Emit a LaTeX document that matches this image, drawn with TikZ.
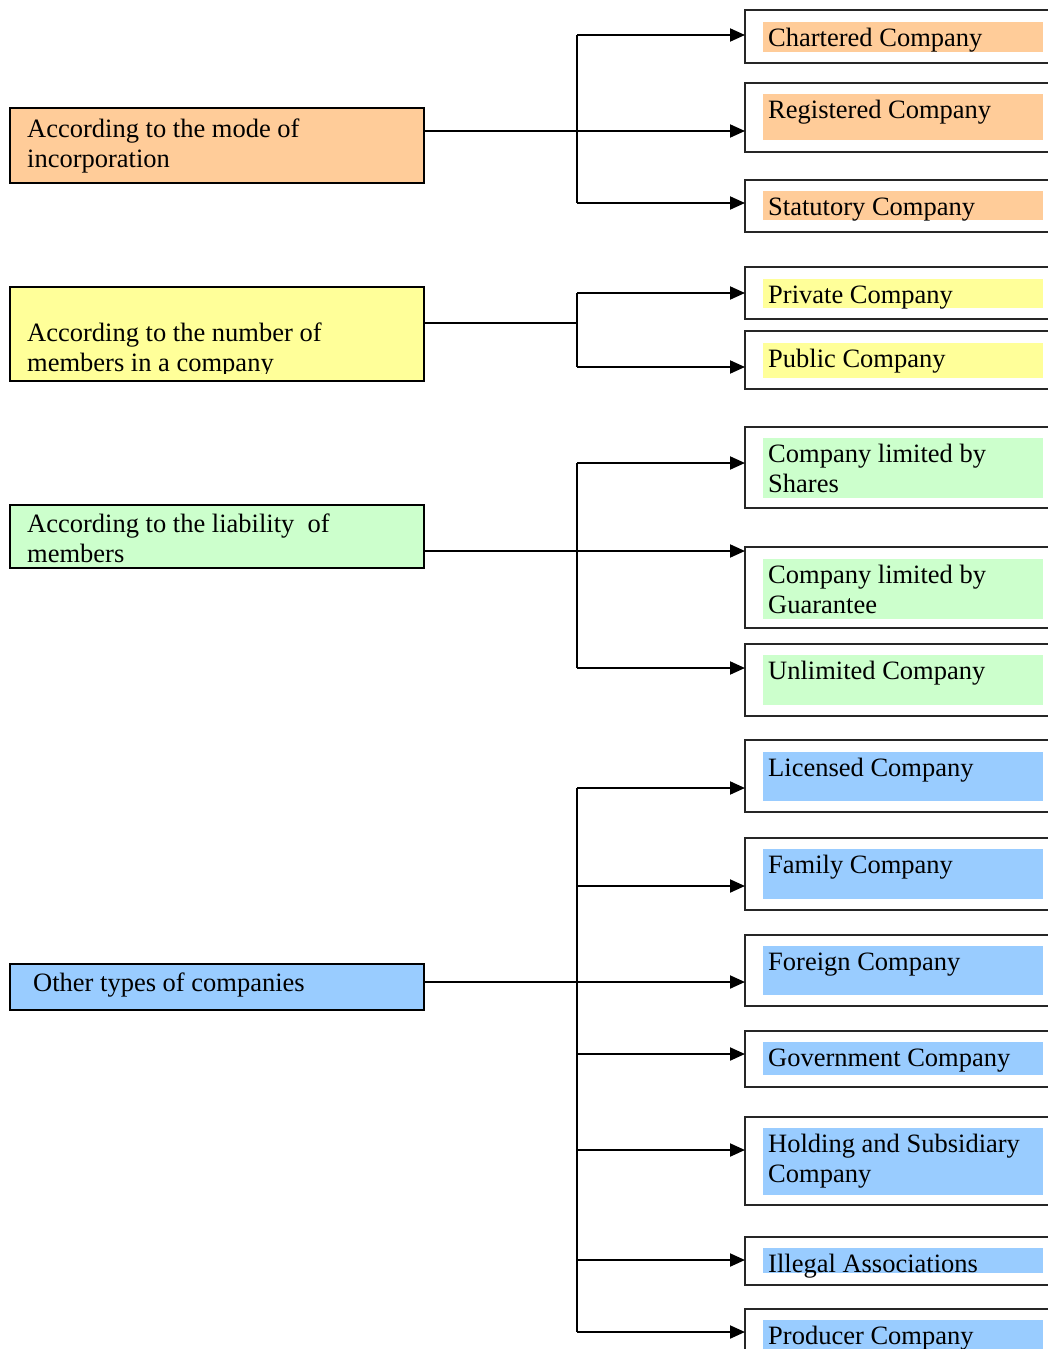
\documentclass[tikz,border=0pt]{standalone}
\usepackage{fontspec}
\setmainfont{Liberation Serif}
\usetikzlibrary{arrows.meta}
\definecolor{corange}{HTML}{FFCC99}
\definecolor{cyellow}{HTML}{FFFF99}
\definecolor{cgreen}{HTML}{CCFFCC}
\definecolor{cblue}{HTML}{99CCFF}
\newcommand\twolines[2]{\vtop{\hbox{#1}\hbox{#2}}}
\tikzset{
  outerbox/.style={draw=black!85, line width=2pt, rectangle, inner sep=0pt, outer sep=0pt,
                   anchor=north west, minimum width=320pt},
  leftbox/.style={draw=black, line width=2pt, rectangle, inner sep=0pt, outer sep=0pt,
                  anchor=north west, minimum width=414pt},
  lbl/.style={anchor=base west, inner sep=0pt, font=\fontsize{26.5}{30}\selectfont},
  conn/.style={line width=2pt, black},
  arr/.style={conn, -{Triangle[length=15pt,width=13pt]}}
}
\newcommand\mkrbox[7]{%
  \node[outerbox, minimum height={#3-#2}] (#1) at (745,#2) {};
  \fill[#6] (763,#4) rectangle (1043,#5);
  \node[lbl] (#1t) at (768,{#4+24}) {#7};
}
\begin{document}
\begin{tikzpicture}[x=1pt,y=-1pt]
\useasboundingbox (0,0) rectangle (1048,1349);
\fill[white] (0,0) rectangle (1048,1349);
\clip (0,0) rectangle (1048,1349);

% left category boxes
\node[leftbox, fill=corange, minimum height=75pt] (A) at (10,108) {};
\node[lbl] (At) at (27,137) {\twolines{According to the mode of}{incorporation}};
\node[leftbox, fill=cyellow, minimum height=94pt] (B) at (10,287) {};
\begin{scope}
  \clip (12,289) rectangle (422,373);
  \node[lbl] (Bt) at (27,341) {\twolines{According to the number of}{members in a company}};
\end{scope}
\node[leftbox, fill=cgreen, minimum height=63pt] (C) at (10,505) {};
\node[lbl] (Ct) at (27,532) {\twolines{According to the liability\ \ of}{members}};
\node[leftbox, fill=cblue, minimum height=46pt] (D) at (10,964) {};
\node[lbl] (Dt) at (33,991) {Other types of companies};

% right boxes
\mkrbox{r1}{10}{63}{22}{52}{corange}{Chartered Company}
\mkrbox{r2}{83}{152}{94}{140}{corange}{Registered Company}
\mkrbox{r3}{180}{232}{191}{220}{corange}{Statutory Company}
\mkrbox{r4}{267}{319}{279}{308}{cyellow}{Private Company}
\mkrbox{r5}{331}{389}{343}{378}{cyellow}{Public Company}
\mkrbox{r6}{427}{508}{438}{498}{cgreen}{\twolines{Company limited by}{Shares}}
\mkrbox{r7}{547}{628}{559}{619}{cgreen}{\twolines{Company limited by}{Guarantee}}
\mkrbox{r8}{644}{716}{655}{705}{cgreen}{Unlimited Company}
\mkrbox{r9}{740}{812}{752}{801}{cblue}{Licensed Company}
\mkrbox{r10}{838}{910}{849}{899}{cblue}{Family Company}
\mkrbox{r11}{935}{1006}{946}{995}{cblue}{Foreign Company}
\mkrbox{r12}{1031}{1087}{1042}{1075}{cblue}{Government Company}
\mkrbox{r13}{1117}{1205}{1128}{1195}{cblue}{\twolines{Holding and Subsidiary}{Company}}
\mkrbox{r14}{1237}{1285}{1248}{1273}{cblue}{Illegal Associations}
\mkrbox{r15}{1309}{1380}{1320}{1380}{cblue}{Producer Company}

% arrow tips and bus line
\coordinate (bus) at (577,0);
\coordinate (t1) at (745,35);
\coordinate (t2) at (745,131);
\coordinate (t3) at (745,203);
\coordinate (t4) at (745,293);
\coordinate (t5) at (745,367);
\coordinate (t6) at (745,463);
\coordinate (t7) at (745,551);
\coordinate (t8) at (745,668);
\coordinate (t9) at (745,788);
\coordinate (t10) at (745,886);
\coordinate (t11) at (745,982);
\coordinate (t12) at (745,1054);
\coordinate (t13) at (745,1150);
\coordinate (t14) at (745,1260);
\coordinate (t15) at (745,1332);
\coordinate (m2) at (577,323);

% group 1
\draw[conn] (bus |- t1) -- (bus |- t3);
\draw[arr] (bus |- t1) -- (t1);
\draw[arr] (A.east |- t2) -- (t2);
\draw[arr] (bus |- t3) -- (t3);
% group 2
\draw[conn] (B.east |- m2) -- (m2);
\draw[conn] (bus |- t4) -- (bus |- t5);
\draw[arr] (bus |- t4) -- (t4);
\draw[arr] (bus |- t5) -- (t5);
% group 3
\draw[conn] (bus |- t6) -- (bus |- t8);
\draw[arr] (bus |- t6) -- (t6);
\draw[arr] (C.east |- t7) -- (t7);
\draw[arr] (bus |- t8) -- (t8);
% group 4
\draw[conn] (bus |- t9) -- (bus |- t15);
\draw[arr] (bus |- t9) -- (t9);
\draw[arr] (bus |- t10) -- (t10);
\draw[arr] (D.east |- t11) -- (t11);
\draw[arr] (bus |- t12) -- (t12);
\draw[arr] (bus |- t13) -- (t13);
\draw[arr] (bus |- t14) -- (t14);
\draw[arr] (bus |- t15) -- (t15);
\end{tikzpicture}
\end{document}
